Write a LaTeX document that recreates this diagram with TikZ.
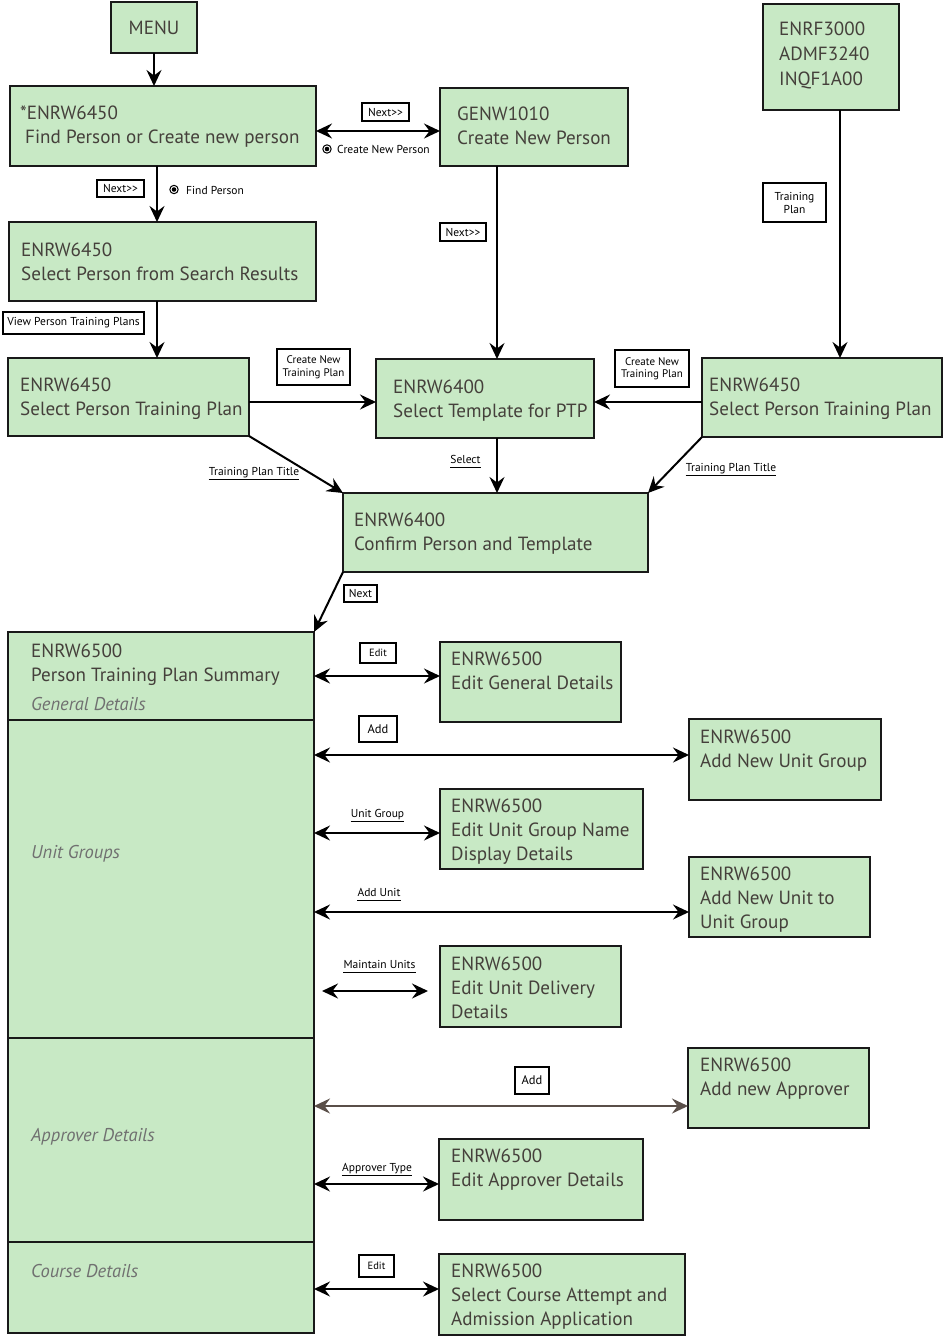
\documentclass[tikz,border=0pt]{standalone}
\usepackage{fontspec}
\setmainfont{PT Sans}
\usetikzlibrary{arrows.meta,calc}
\definecolor{boxfill}{HTML}{C8E9C5}
\definecolor{txtc}{HTML}{45403B}
\definecolor{secc}{HTML}{707070}
\definecolor{brownline}{HTML}{5A4F49}
\begin{document}
\begin{tikzpicture}[x=1pt,y=-1pt,
 box/.style={draw=black!90, line width=2pt, fill=boxfill, anchor=north west, inner sep=0pt, outer sep=0pt},
 txt/.style={anchor=base west, inner sep=0pt, align=left, text=txtc, font=\fontsize{19.1}{24}\selectfont},
 sect/.style={anchor=base west, inner sep=0pt, text=secc, font=\fontsize{18.5}{22}\selectfont\itshape},
 lab/.style={draw, line width=1.5pt, fill=white, font=\fontsize{11.5}{13}\selectfont, inner sep=0pt, align=center},
 ulab/.style={font=\fontsize{11.5}{13}\selectfont, inner sep=0pt, text height=8pt, text depth=2pt},
 uline/.style={line width=1.5pt},
 rad/.style={font=\fontsize{11.5}{13}\selectfont, inner sep=0pt, anchor=west},
 con/.style={line width=2pt, -{Stealth[length=16pt,width=15pt,inset=5.5pt]}},
 dcon/.style={line width=2pt, {Stealth[length=16pt,width=15pt,inset=5.5pt]}-{Stealth[length=16pt,width=15pt,inset=5.5pt]}},
]
\path[use as bounding box, fill=white] (0,0) rectangle (944,1336);

% ---------- boxes ----------
\node[box, minimum width=86, minimum height=51] (menu) at (111,2) {};
\node[anchor=center, inner sep=0pt, text=txtc, font=\fontsize{19.1}{24}\selectfont] (tmenu) at (154,27.5) {MENU};
\node[box, minimum width=306, minimum height=80] (b1) at (10,86) {};
\node[txt] (t1) at (20,143.5) {*ENRW6450\\\hspace{5pt}Find Person or Create new person};
\node[box, minimum width=188, minimum height=78] (genw) at (440,88) {};
\node[txt] (tg) at (457,144.5) {GENW1010\\Create New Person};
\node[box, minimum width=307, minimum height=79] (b2) at (9,222) {};
\node[txt] (t2) at (21,280.5) {ENRW6450\\Select Person from Search Results};
\node[box, minimum width=241, minimum height=78] (b3) at (8,358) {};
\node[txt] (t3) at (20,415.5) {ENRW6450\\Select Person Training Plan};
\node[box, minimum width=218, minimum height=79] (b4) at (376,359) {};
\node[txt] (t4) at (393,417.5) {ENRW6400\\Select Template for PTP};
\node[box, minimum width=136, minimum height=106] (enrf) at (763,4) {};
\node[txt, font=\fontsize{19.1}{25}\selectfont] (te) at (779,85.5) {ENRF3000\\ADMF3240\\INQF1A00};
\node[box, minimum width=240, minimum height=79] (b5) at (702,358) {};
\node[txt] (t5) at (709,415.5) {ENRW6450\\Select Person Training Plan};
\node[box, minimum width=305, minimum height=79] (b6) at (343,493) {};
\node[txt] (t6) at (354,550.5) {ENRW6400\\Confirm Person and Template};

\node[box, minimum width=306, minimum height=88] (s1) at (8,632) {};
\node[box, minimum width=306, minimum height=318] (s2) at (8,720) {};
\node[box, minimum width=306, minimum height=204] (s3) at (8,1038) {};
\node[box, minimum width=306, minimum height=91] (s4) at (8,1242) {};
\node[txt] (ts1) at (31,681.5) {ENRW6500\\Person Training Plan Summary};
\node[sect] (ts1b) at (31,710) {General Details};
\node[sect] (ts2) at (31,858) {Unit Groups};
\node[sect] (ts3) at (31,1141) {Approver Details};
\node[sect] (ts4) at (31,1277) {Course Details};

\node[box, minimum width=181, minimum height=80] (eg) at (440,642) {};
\node[txt] (teg) at (451,689.5) {ENRW6500\\Edit General Details};
\node[box, minimum width=192, minimum height=81] (anug) at (689,719) {};
\node[txt] (tanug) at (700,767.5) {ENRW6500\\Add New Unit Group};
\node[box, minimum width=203, minimum height=80] (eugn) at (440,789) {};
\node[txt] (teugn) at (451,860.5) {ENRW6500\\Edit Unit Group Name\\Display Details};
\node[box, minimum width=181, minimum height=80] (anu) at (689,857) {};
\node[txt] (tanu) at (700,928.5) {ENRW6500\\Add New Unit to\\Unit Group};
\node[box, minimum width=181, minimum height=81] (eud) at (440,946) {};
\node[txt] (teud) at (451,1018.5) {ENRW6500\\Edit Unit Delivery\\Details};
\node[box, minimum width=181, minimum height=80] (ana) at (688,1048) {};
\node[txt] (tana) at (700,1095.5) {ENRW6500\\Add new Approver};
\node[box, minimum width=204, minimum height=81] (ead) at (439,1139) {};
\node[txt] (tead) at (451,1186.5) {ENRW6500\\Edit Approver Details};
\node[box, minimum width=246, minimum height=81] (scaa) at (439,1254) {};
\node[txt] (tscaa) at (451,1325.5) {ENRW6500\\Select Course Attempt and\\Admission Application};

% ---------- helper coordinates ----------
\coordinate (c6) at ([xshift=12pt]b4.north);
\coordinate (c7) at ([xshift=9pt]enrf.south);
\coordinate (c13a) at ([xshift=8pt,yshift=-4.5pt]s2.east |- eud.west);
\coordinate (c13b) at ([xshift=-12pt,yshift=-4.5pt]eud.west);

% ---------- connectors ----------
\draw[con] (menu.south) -- (menu.south |- b1.north);
\draw[dcon] ([yshift=-5pt]b1.east) -- ([yshift=-5pt]b1.east -| genw.west);
\draw[con] ([xshift=-6pt]b1.south) -- ([xshift=-6pt]b1.south |- b2.north);
\draw[con] ([xshift=-5.5pt]b2.south) -- ([xshift=-5.5pt]b2.south |- b3.north);
\draw[con] ([yshift=-5pt]b3.east) -- ([yshift=-5pt]b3.east -| b4.west);
\draw[con] (genw.south -| c6) -- (c6);
\draw[con] (c7) -- (c7 |- b5.north);
\draw[con] ([yshift=-4.5pt]b5.west) -- ([yshift=-4.5pt]b5.west -| b4.east);
\draw[con] (b3.south east) -- (b6.north west);
\draw[con] (c6 |- b4.south) -- (c6 |- b6.north);
\draw[con] (b5.south west) -- (b6.north east);
\draw[con] (b6.south west) -- (s1.north east);

\draw[dcon] (s1.east) -- (s1.east -| eg.west);
\draw[dcon] ([yshift=4.5pt]anug.west -| s2.east) -- ([yshift=4.5pt]anug.west);
\draw[dcon] ([yshift=-4pt]eugn.west -| s2.east) -- ([yshift=-4pt]eugn.west);
\draw[dcon] ([yshift=-15pt]anu.west -| s2.east) -- ([yshift=-15pt]anu.west);
\draw[dcon] (c13a) -- (c13b);
\draw[dcon, draw=brownline, fill=brownline] ([yshift=-18pt]ana.west -| s3.east) -- ([yshift=-18pt]ana.west);
\draw[dcon] ([yshift=-4.5pt]ead.west -| s3.east) -- ([yshift=-4.5pt]ead.west);
\draw[dcon] ([yshift=5.5pt]scaa.west -| s4.east) -- ([yshift=5.5pt]scaa.west);

% ---------- connector labels ----------
\node[lab, minimum width=47, minimum height=18] (l1) at (385.5,112) {Next>{}>};
\draw[line width=1pt] (327,149) circle (4.2);
\fill (327,149) circle (2.3);
\node[rad] (r1) at (337,149) {Create New Person};
\node[lab, minimum width=47, minimum height=17] (l2) at (120.5,188.5) {Next>{}>};
\draw[line width=1pt] (174,189.5) circle (4.2);
\fill (174,189.5) circle (2.3);
\node[rad] (r2) at (186,190) {Find Person};
\node[lab, minimum width=141, minimum height=22] (l3) at (73.5,323) {View Person Training Plans};
\node[lab, minimum width=73, minimum height=36, font=\fontsize{11}{12.5}\selectfont] (l4) at (313.5,367) {Create New\\Training Plan};
\node[lab, minimum width=46, minimum height=18] (l5) at (463,232) {Next>{}>};
\node[lab, minimum width=63, minimum height=39] (l6) at (794.5,202.5) {Training\\Plan};
\node[lab, minimum width=74, minimum height=37, font=\fontsize{11}{12.5}\selectfont] (l7) at (652,368.5) {Create New\\Training Plan};
\node[lab, minimum width=33, minimum height=17] (l8) at (360.5,593.5) {Next};
\node[lab, minimum width=36, minimum height=20, font=\fontsize{10.5}{12}\selectfont] (l9) at (378,653) {Edit};
\node[lab, minimum width=38, minimum height=26, font=\fontsize{12.5}{14}\selectfont] (l10) at (378,729) {Add};
\node[lab, minimum width=34, minimum height=27, font=\fontsize{12.5}{14}\selectfont] (l11) at (532,1080.5) {Add};
\node[lab, minimum width=35, minimum height=22, font=\fontsize{10.5}{12}\selectfont] (l12) at (376.5,1266) {Edit};

\node[ulab] (u1) at (254,472) {Training Plan Title};
\draw[uline] ([yshift=-2.5pt]u1.south west) -- ([yshift=-2.5pt]u1.south east);
\node[ulab] (u2) at (465.5,460) {Select};
\draw[uline] ([yshift=-2.5pt]u2.south west) -- ([yshift=-2.5pt]u2.south east);
\node[ulab] (u3) at (731,468) {Training Plan Title};
\draw[uline] ([yshift=-2.5pt]u3.south west) -- ([yshift=-2.5pt]u3.south east);
\node[ulab] (u4) at (377.5,814) {Unit Group};
\draw[uline] ([yshift=-2.5pt]u4.south west) -- ([yshift=-2.5pt]u4.south east);
\node[ulab] (u5) at (379,893) {Add Unit};
\draw[uline] ([yshift=-2.5pt]u5.south west) -- ([yshift=-2.5pt]u5.south east);
\node[ulab] (u6) at (379.5,965) {Maintain Units};
\draw[uline] ([yshift=-2.5pt]u6.south west) -- ([yshift=-2.5pt]u6.south east);
\node[ulab] (u7) at (377,1168) {Approver Type};
\draw[uline] ([yshift=-2.5pt]u7.south west) -- ([yshift=-2.5pt]u7.south east);
\end{tikzpicture}
\end{document}
